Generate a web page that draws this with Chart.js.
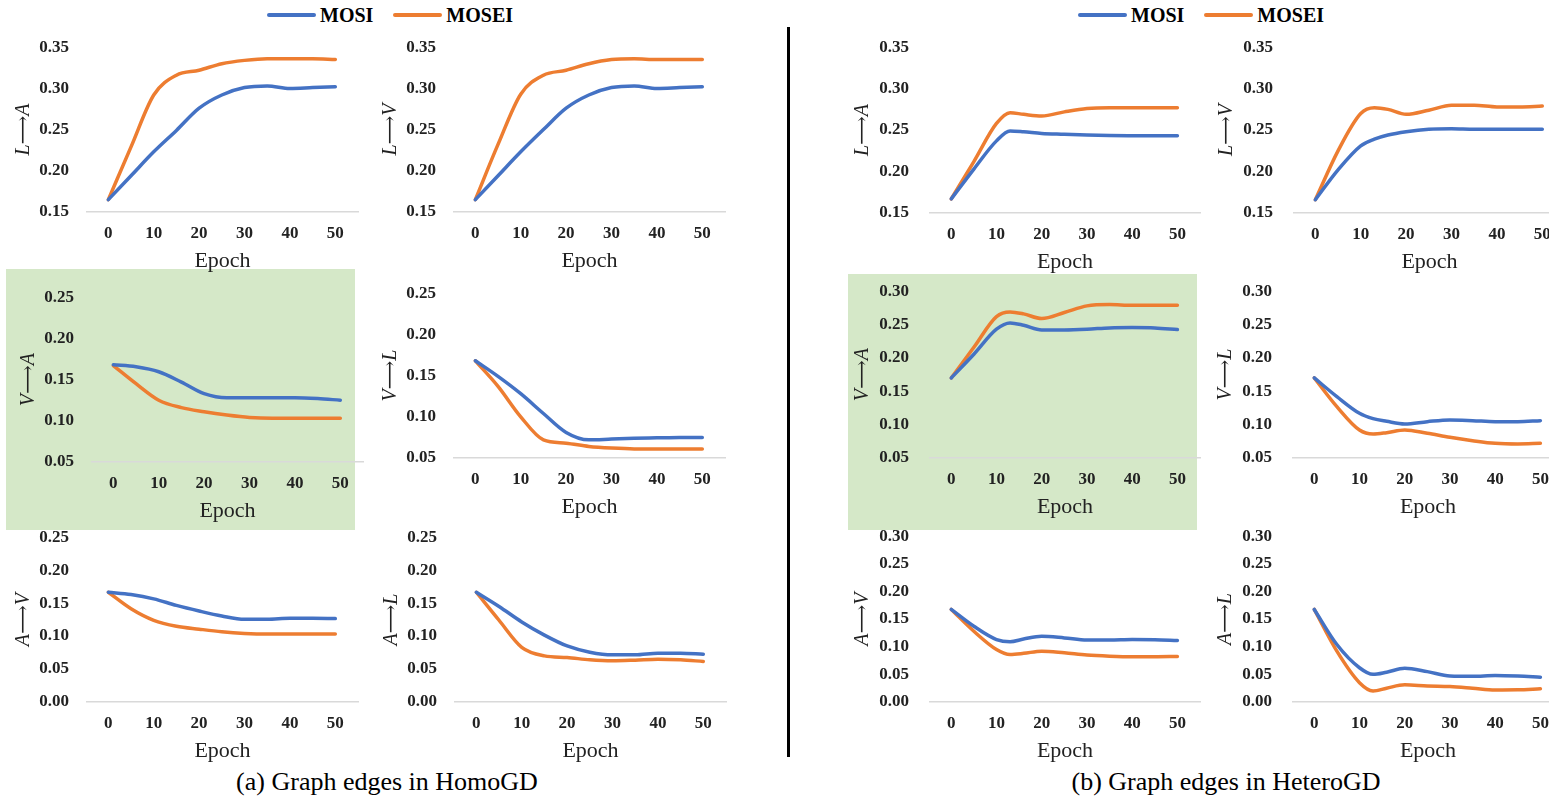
<!DOCTYPE html>
<html>
<head>
<meta charset="utf-8">
<script src="https://cdn.jsdelivr.net/npm/chart.js@4.4.1/dist/chart.umd.min.js"></script>
<style>
  html, body { margin: 0; padding: 0; background: #fff; }
  body { position: relative; width: 1549px; height: 801px; overflow: hidden; font-family: 'Liberation Serif', 'DejaVu Serif', serif; }
  canvas { position: absolute; }
  .green { position: absolute; background: #d5e8c8; }
  .divider { position: absolute; left: 787px; top: 27px; width: 3px; height: 730px; background: #000; }
  .legend { position: absolute; top: 3px; height: 24px; display: flex; align-items: center; font-weight: bold; font-size: 20px; }
  .legend .swatch { display: inline-block; width: 49px; height: 4px; border-radius: 2px; margin-right: 4px; }
  .legend .item { display: flex; align-items: center; margin-right: 20px; }
  .caption { position: absolute; top: 767px; font-size: 26px; white-space: nowrap; transform: translateX(-50%); }
</style>
</head>
<body>
<div class="green" style="left:6px; top:269px; width:349px; height:261px;"></div>
<div class="green" style="left:848px; top:274px; width:349px; height:256px;"></div>
<div class="divider"></div>
<div class="legend" style="left:267px;">
  <span class="item"><span class="swatch" style="background:#4472C4"></span>MOSI</span>
  <span class="item"><span class="swatch" style="background:#ED7D31"></span>MOSEI</span>
</div>
<div class="legend" style="left:1078px;">
  <span class="item"><span class="swatch" style="background:#4472C4"></span>MOSI</span>
  <span class="item"><span class="swatch" style="background:#ED7D31"></span>MOSEI</span>
</div>
<div class="caption" style="left:387px;">(a) Graph edges in HomoGD</div>
<div class="caption" style="left:1226px;">(b) Graph edges in HeteroGD</div>

<script>
// Epochs (x values) and tick labels
const homoEpochs = [0, 5, 10, 15, 20, 25, 30, 35, 40, 45, 50];
const heteroEpochs = [0, 5, 10, 13, 16, 20, 25, 30, 35, 40, 45, 50];
const xTicks = [0, 10, 20, 30, 40, 50];

// (a) HomoGD
const homoLA_mosi = [0.165, 0.194, 0.223, 0.249, 0.276, 0.292, 0.301, 0.303, 0.300, 0.301, 0.302];
const homoLA_mosei = [0.165, 0.229, 0.292, 0.316, 0.322, 0.330, 0.334, 0.336, 0.336, 0.336, 0.335];
const homoLV_mosi = [0.165, 0.194, 0.223, 0.250, 0.276, 0.292, 0.301, 0.303, 0.300, 0.301, 0.302];
const homoLV_mosei = [0.165, 0.232, 0.293, 0.316, 0.322, 0.330, 0.335, 0.336, 0.335, 0.335, 0.335];
const homoVA_mosi = [0.168, 0.1655, 0.1595, 0.147, 0.133, 0.128, 0.128, 0.128, 0.128, 0.127, 0.125];
const homoVA_mosei = [0.167, 0.145, 0.125, 0.116, 0.111, 0.107, 0.104, 0.103, 0.103, 0.103, 0.103];
const homoVL_mosi = [0.168, 0.149, 0.128, 0.104, 0.081, 0.072, 0.073, 0.074, 0.0745, 0.075, 0.075];
const homoVL_mosei = [0.168, 0.137, 0.100, 0.072, 0.068, 0.064, 0.062, 0.061, 0.061, 0.061, 0.061];
const homoAV_mosi = [0.1665, 0.163, 0.1565, 0.1465, 0.138, 0.1305, 0.1255, 0.1255, 0.127, 0.127, 0.1265];
const homoAV_mosei = [0.1665, 0.1415, 0.124, 0.115, 0.1105, 0.1065, 0.104, 0.103, 0.103, 0.103, 0.103];
const homoAL_mosi = [0.1665, 0.145, 0.1215, 0.1015, 0.085, 0.0755, 0.0715, 0.0715, 0.074, 0.074, 0.0725];
const homoAL_mosei = [0.1665, 0.124, 0.083, 0.070, 0.0675, 0.064, 0.0625, 0.0635, 0.065, 0.064, 0.0615];

// (b) HeteroGD
const heteroLA_mosi = [0.167, 0.203, 0.237, 0.249, 0.248, 0.246, 0.245, 0.244, 0.2435, 0.2433, 0.2432, 0.2432];
const heteroLA_mosei = [0.167, 0.212, 0.258, 0.271, 0.269, 0.267, 0.272, 0.276, 0.277, 0.277, 0.277, 0.277];
const heteroLV_mosi = [0.166, 0.202, 0.231, 0.239, 0.244, 0.248, 0.251, 0.2516, 0.251, 0.251, 0.251, 0.251];
const heteroLV_mosei = [0.166, 0.225, 0.270, 0.277, 0.275, 0.269, 0.274, 0.280, 0.280, 0.278, 0.278, 0.279];
const heteroVA_mosi = [0.170, 0.2055, 0.243, 0.2525, 0.249, 0.242, 0.242, 0.243, 0.245, 0.2455, 0.245, 0.2425];
const heteroVA_mosei = [0.170, 0.216, 0.262, 0.269, 0.266, 0.259, 0.268, 0.278, 0.280, 0.279, 0.279, 0.279];
const heteroVL_mosi = [0.170, 0.142, 0.117, 0.109, 0.105, 0.101, 0.1045, 0.107, 0.106, 0.1045, 0.1045, 0.106];
const heteroVL_mosei = [0.170, 0.127, 0.092, 0.086, 0.088, 0.092, 0.087, 0.081, 0.076, 0.072, 0.071, 0.072];
const heteroAV_mosi = [0.1675, 0.137, 0.113, 0.109, 0.114, 0.119, 0.116, 0.112, 0.112, 0.113, 0.1127, 0.1114];
const heteroAV_mosei = [0.1675, 0.128, 0.095, 0.086, 0.088, 0.092, 0.089, 0.085, 0.083, 0.082, 0.082, 0.0825];
const heteroAL_mosi = [0.1675, 0.104, 0.062, 0.050, 0.054, 0.061, 0.055, 0.047, 0.0464, 0.048, 0.047, 0.045];
const heteroAL_mosei = [0.1675, 0.092, 0.035, 0.020, 0.025, 0.031, 0.029, 0.028, 0.025, 0.0217, 0.022, 0.024];

const BLUE = '#4472C4';
const ORANGE = '#ED7D31';
const FONT = "'Liberation Serif', 'DejaVu Serif', serif";

const XH = 65;   // x scale height (tick labels + Epoch)
const PT = 14;   // space above top tick
const PR = 4;
const X_MIN = -4.7, X_MAX = 55;

function toPoints(epochs, values) {
    return epochs.map((e, i) => ({ x: e, y: values[i] }));
}

// x0/x50: target pixel of epoch 0 and 50, yTop/yBot: target pixel of top and bottom tick
function createPanel(p) {
    const ppe = (p.x50 - p.x0) / 50;
    const w = Math.round(p.yw + (X_MAX - X_MIN) * ppe + PR);
    const h = Math.round(PT + (p.yBot - p.yTop) + XH);

    const canvas = document.createElement('canvas');
    canvas.width = w;
    canvas.height = h;
    document.body.appendChild(canvas);

    const chart = new Chart(canvas.getContext('2d'), {
        type: 'line',
        data: {
            datasets: [
                { label: 'MOSI', data: toPoints(p.epochs, p.mosi), borderColor: BLUE },
                { label: 'MOSEI', data: toPoints(p.epochs, p.mosei), borderColor: ORANGE }
            ]
        },
        options: {
            responsive: false,
            maintainAspectRatio: false,
            animation: false,
            layout: { padding: { top: PT, right: PR, left: 0, bottom: 0 } },
            elements: {
                line: { borderWidth: 3.5, cubicInterpolationMode: 'monotone', borderCapStyle: 'round', borderJoinStyle: 'round' },
                point: { radius: 0 }
            },
            plugins: { legend: { display: false }, tooltip: { enabled: false } },
            scales: {
                x: {
                    type: 'linear',
                    min: X_MIN,
                    max: X_MAX,
                    grid: { display: false },
                    border: { display: true, color: '#D9D9D9', width: 1.5 },
                    afterBuildTicks: axis => { axis.ticks = xTicks.map(v => ({ value: v })); },
                    afterFit: axis => { axis.height = XH; },
                    ticks: {
                        padding: 3,
                        maxRotation: 0,
                        color: '#222',
                        font: { family: FONT, size: 17, weight: 'bold' },
                        callback: v => String(v)
                    },
                    title: {
                        display: true,
                        text: 'Epoch',
                        color: '#222',
                        padding: { top: 0, bottom: 3 },
                        font: { family: FONT, size: 22 }
                    }
                },
                y: {
                    min: p.yMin,
                    max: p.yMax,
                    grid: { display: false },
                    border: { display: false },
                    afterFit: axis => { axis.width = p.yw; },
                    ticks: {
                        stepSize: 0.05,
                        padding: p.tickPad,
                        color: '#222',
                        font: { family: FONT, size: 17, weight: 'bold' },
                        callback: v => v.toFixed(2)
                    },
                    title: {
                        display: true,
                        text: p.title,
                        color: '#222',
                        padding: 0,
                        font: { family: FONT, size: 20, style: 'italic' }
                    }
                }
            }
        }
    });

    // grow the canvas until the scales span the wanted pixels, then place it
    const xs = chart.scales.x, ys = chart.scales.y;
    const dw = (p.x50 - p.x0) - (xs.getPixelForValue(50) - xs.getPixelForValue(0));
    const dh = (p.yBot - p.yTop) - (ys.getPixelForValue(p.yMin) - ys.getPixelForValue(p.yMax));
    chart.resize(Math.round(w + dw * (X_MAX - X_MIN) / 50), Math.round(h + dh));
    canvas.style.left = Math.round(p.x0 - chart.scales.x.getPixelForValue(0)) + 'px';
    canvas.style.top = Math.round(p.yTop - chart.scales.y.getPixelForValue(p.yMax)) + 'px';
}

const ARROW = '\u27F6';
const panels = [
    { x0: 108, x50: 335, yTop: 47, yBot: 212, yMin: 0.15, yMax: 0.35, title: 'L' + ARROW + 'A', epochs: homoEpochs, mosi: homoLA_mosi, mosei: homoLA_mosei, tickPad: 10, yw: 75 },
    { x0: 475, x50: 702, yTop: 47, yBot: 212, yMin: 0.15, yMax: 0.35, title: 'L' + ARROW + 'V', epochs: homoEpochs, mosi: homoLV_mosi, mosei: homoLV_mosei, tickPad: 10, yw: 75 },
    { x0: 113, x50: 340, yTop: 297, yBot: 462, yMin: 0.05, yMax: 0.25, title: 'V' + ARROW + 'A', epochs: homoEpochs, mosi: homoVA_mosi, mosei: homoVA_mosei, tickPad: 10, yw: 75 },
    { x0: 475, x50: 702, yTop: 293, yBot: 458, yMin: 0.05, yMax: 0.25, title: 'V' + ARROW + 'L', epochs: homoEpochs, mosi: homoVL_mosi, mosei: homoVL_mosei, tickPad: 10, yw: 75 },
    { x0: 108, x50: 335, yTop: 537, yBot: 702, yMin: 0.00, yMax: 0.25, title: 'A' + ARROW + 'V', epochs: homoEpochs, mosi: homoAV_mosi, mosei: homoAV_mosei, tickPad: 10, yw: 75 },
    { x0: 476, x50: 703, yTop: 537, yBot: 702, yMin: 0.00, yMax: 0.25, title: 'A' + ARROW + 'L', epochs: homoEpochs, mosi: homoAL_mosi, mosei: homoAL_mosei, tickPad: 10, yw: 75 },
    { x0: 951, x50: 1177, yTop: 47, yBot: 213, yMin: 0.15, yMax: 0.35, title: 'L' + ARROW + 'A', epochs: heteroEpochs, mosi: heteroLA_mosi, mosei: heteroLA_mosei, tickPad: 13, yw: 79 },
    { x0: 1315, x50: 1542, yTop: 47, yBot: 213, yMin: 0.15, yMax: 0.35, title: 'L' + ARROW + 'V', epochs: heteroEpochs, mosi: heteroLV_mosi, mosei: heteroLV_mosei, tickPad: 13, yw: 79 },
    { x0: 951, x50: 1177, yTop: 291, yBot: 458, yMin: 0.05, yMax: 0.30, title: 'V' + ARROW + 'A', epochs: heteroEpochs, mosi: heteroVA_mosi, mosei: heteroVA_mosei, tickPad: 13, yw: 79 },
    { x0: 1314, x50: 1540, yTop: 291, yBot: 458, yMin: 0.05, yMax: 0.30, title: 'V' + ARROW + 'L', epochs: heteroEpochs, mosi: heteroVL_mosi, mosei: heteroVL_mosei, tickPad: 13, yw: 79 },
    { x0: 951, x50: 1177, yTop: 536, yBot: 702, yMin: 0.00, yMax: 0.30, title: 'A' + ARROW + 'V', epochs: heteroEpochs, mosi: heteroAV_mosi, mosei: heteroAV_mosei, tickPad: 13, yw: 79 },
    { x0: 1314, x50: 1540, yTop: 536, yBot: 702, yMin: 0.00, yMax: 0.30, title: 'A' + ARROW + 'L', epochs: heteroEpochs, mosi: heteroAL_mosi, mosei: heteroAL_mosei, tickPad: 13, yw: 79 }
];

panels.forEach(createPanel);
</script>
</body>
</html>
